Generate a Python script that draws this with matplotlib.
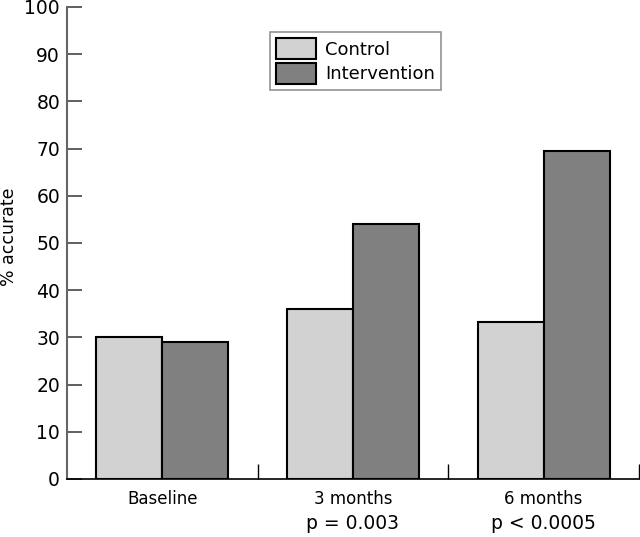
import numpy as np
from matplotlib import pyplot as plt
from matplotlib.transforms import blended_transform_factory

groups = ['Baseline', '3 months', '6 months']
control = [30, 36, 33.2]
intervention = [29, 54, 69.5]
p_values = ['', 'p = 0.003', 'p < 0.0005']
y_ticks = list(range(0, 101, 10))

plt.rcParams['font.family'] = 'DejaVu Sans'

fig = plt.figure(figsize=(6.4, 5.37), dpi=100)
ax = fig.add_axes([67 / 640, 58 / 537, 572 / 640, 472 / 537])

x = np.arange(len(groups)) + 0.5
w = 0.346
ax.bar(x - w / 2, control, w, color='#d2d2d2', edgecolor='black', linewidth=1.5,
       label='Control', zorder=2)
ax.bar(x + w / 2, intervention, w, color='#808080', edgecolor='black', linewidth=1.5,
       label='Intervention', zorder=2)

ax.set_xlim(0, 3)
ax.set_ylim(0, 100)

for s in ['top', 'right']:
    ax.spines[s].set_visible(False)
ax.spines['left'].set_color('#666666')
ax.spines['left'].set_linewidth(1.5)
ax.spines['bottom'].set_color('black')
ax.spines['bottom'].set_linewidth(1.2)

ax.set_yticks(y_ticks)
ax.tick_params(axis='y', direction='in', length=11, width=1.2, color='#444444',
               labelsize=13.5, pad=5)

# separators between groups as upward ticks, labels at group centres
ax.set_xticks([1, 2, 3])
ax.set_xticklabels([])
ax.tick_params(axis='x', which='major', direction='in', length=11, width=1.0)
ax.set_xticks(x, minor=True)
ax.set_xticklabels(groups, minor=True)
ax.tick_params(axis='x', which='minor', length=0, labelsize=12, pad=8)

trans = blended_transform_factory(ax.transData, ax.transAxes)
for xi, p in zip(x, p_values):
    if p:
        ax.text(xi, -0.095, p, transform=trans, ha='center', va='center', fontsize=13.5)

# y label placed by hand, the tick labels leave little room
fig.text(9 / 640, (537 - 237) / 537, '% accurate', rotation=90, ha='center', va='center',
         fontsize=12.5)

leg = ax.legend(loc='upper left', bbox_to_anchor=(203 / 572, 0.947), borderaxespad=0,
                fontsize=13, frameon=True, fancybox=False, edgecolor='#777777',
                handlelength=2.2, handleheight=1.4, borderpad=0.35, labelspacing=0.2,
                handletextpad=0.5)
leg.get_frame().set_linewidth(1.2)

fig.savefig('out.png', dpi=100)
